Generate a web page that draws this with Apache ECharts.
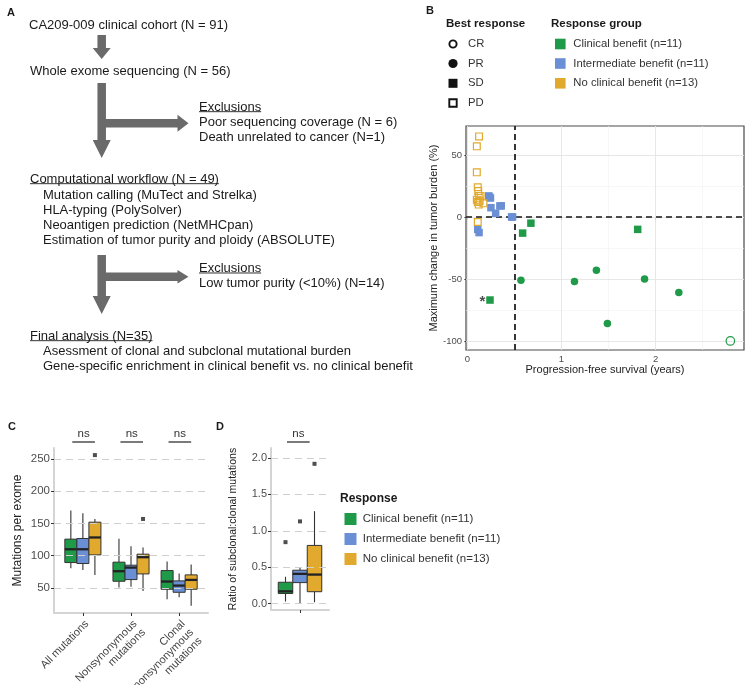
<!DOCTYPE html>
<html><head><meta charset="utf-8">
<script src="https://cdn.jsdelivr.net/npm/echarts@6/dist/echarts.min.js"></script>
<style>html,body{margin:0;padding:0;background:#fff}#c{width:750px;height:685px}</style>
</head><body><div id="c"></div>
<script>
// ================= DATA =================
const groupNames = ['Clinical benefit (n=11)', 'Intermediate benefit (n=11)', 'No clinical benefit (n=13)'];
const responseNames = ['CR', 'PR', 'SD', 'PD'];

// Panel B: progression-free survival (years) vs max change in tumor burden (%)
const clinicalPFS    = [0.675, 0.587, 1.81, 0.24, 0.569, 1.138, 1.371, 1.488, 1.883, 2.247, 2.795];
const clinicalChange = [-5, -13, -10, -67, -51, -52, -43, -86, -50, -61, -100];
const clinicalResp   = ['SD', 'SD', 'SD', 'SD', 'PR', 'PR', 'PR', 'PR', 'PR', 'PR', 'CR'];
const intermPFS      = [0.11, 0.124, 0.227, 0.235, 0.245, 0.25, 0.30, 0.345, 0.36, 0.47, 0.48];
const intermChange   = [-10, -12.6, 17, 16, 15.3, 7.5, 3, 8.9, 9, 0, 0];
const intermResp     = ['SD', 'SD', 'SD', 'SD', 'SD', 'SD', 'SD', 'SD', 'SD', 'SD', 'SD'];
const noBenPFS       = [0.124, 0.10, 0.10, 0.11, 0.115, 0.12, 0.14, 0.10, 0.11, 0.12, 0.17, 0.13, 0.11];
const noBenChange    = [65, 57, 36, 24, 21, 17, 17, 14, 12, 10, 11, 13, -4];
const noBenResp      = ['PD', 'PD', 'PD', 'PD', 'PD', 'PD', 'PD', 'PD', 'PD', 'PD', 'PD', 'PD', 'PD'];
const asteriskPoint  = [0.16, -66];
const bXTicks = [0, 1, 2];
const bXMinor = [0.5, 1.5, 2.5];
const bYTicks = [-100, -50, 0, 50];
const bYMinor = [-75, -25, 25];
const pfsCutoff = 0.5;
const changeCutoff = 0;

// Panel C: mutations per exome, box stats [min, Q1, median, Q3, max]
const mutationCategories = ['All mutations', 'Nonsynonymous\nmutations', 'Clonal\nnonsynonymous\nmutations'];
const mutClinical = [[80.6, 89.4, 110, 125.7, 170.2], [50.6, 60.4, 76, 90, 126.2], [32.4, 48, 60, 77, 91]];
const mutInterm   = [[78, 87.9, 110, 126.7, 166], [52, 63, 81.6, 85.3, 114.8], [35.5, 43.3, 53.7, 61, 72.3]];
const mutNoBen    = [[70.2, 101.3, 128.3, 152, 156.8], [45.4, 71.8, 97.7, 102.4, 112.7], [22.6, 48, 62.5, 70.3, 86.3]];
const mutOutliers = [[0, 2, 256], [1, 2, 157]]; // [category index, group index, value]
const mutTicks = [50, 100, 150, 200, 250];
const mutSignif = ['ns', 'ns', 'ns'];

// Panel D: ratio of subclonal:clonal mutations
const ratioClinical = [0.03, 0.14, 0.17, 0.295, 0.37];
const ratioInterm   = [0.0, 0.29, 0.41, 0.46, 0.49];
const ratioNoBen    = [0.02, 0.165, 0.40, 0.80, 1.27];
const ratioOutliers = [[0, 0.845], [1, 1.13], [2, 1.92]]; // [group index, value]
const ratioTicks = [0, 0.5, 1.0, 1.5, 2.0];
const ratioSignif = ['ns'];

// Panel A flowchart texts
const flowMain = ['CA209-009 clinical cohort (N = 91)', 'Whole exome sequencing (N = 56)'];
const flowExcl1 = ['Exclusions', 'Poor sequencing coverage (N = 6)', 'Death unrelated to cancer (N=1)'];
const flowWorkflow = ['Computational workflow (N = 49)', 'Mutation calling (MuTect and Strelka)', 'HLA-typing (PolySolver)',
  'Neoantigen prediction (NetMHCpan)', 'Estimation of tumor purity and ploidy (ABSOLUTE)'];
const flowExcl2 = ['Exclusions', 'Low tumor purity (<10%) (N=14)'];
const flowFinal = ['Final analysis (N=35)', 'Asessment of clonal and subclonal mutational burden',
  'Gene-specific enrichment in clinical benefit vs. no clinical benefit'];

// ================= STYLE =================
const FONT = "'Liberation Sans', Arial, Helvetica, sans-serif";
const COLORS = ['#1f9a48', '#6a8fd4', '#e1a92d'];
const ARROW = '#6a6a6a';
const FLOW_SIZE = 13;

const chart = echarts.init(document.getElementById('c'), null, {renderer: 'canvas'});
const ctx = document.createElement('canvas').getContext('2d');
function tw(str, font) { ctx.font = font; return ctx.measureText(str).width; }

const graphic = [];
function txt(str, x, y, o) {
  o = o || {};
  const size = o.size || FLOW_SIZE;
  const font = (o.bold ? 'bold ' : '') + size + 'px ' + FONT;
  graphic.push({type: 'text', x: x, y: y, silent: true, style: {
    text: str, font: font, fill: o.color || '#1a1a1a',
    align: o.align || 'left', textAlign: o.align || 'left',
    verticalAlign: 'middle', textVerticalAlign: 'middle'}});
  if (o.underline) {
    const w = tw(str, font);
    const uy = y + size * 0.36;
    graphic.push({type: 'line', silent: true, shape: {x1: x, y1: uy, x2: x + w, y2: uy}, style: {stroke: o.color || '#1a1a1a', lineWidth: 0.9}});
  }
}
function poly(pts) { graphic.push({type: 'polygon', silent: true, shape: {points: pts}, style: {fill: ARROW}}); }
function downArrow(cx, y0, y1, shaftW, headW, headL) {
  poly([[cx - shaftW / 2, y0], [cx + shaftW / 2, y0], [cx + shaftW / 2, y1 - headL], [cx + headW / 2, y1 - headL],
        [cx, y1], [cx - headW / 2, y1 - headL], [cx - shaftW / 2, y1 - headL]]);
}
function rightArrow(cy, x0, x1, shaftW, headW, headL) {
  poly([[x0, cy - shaftW / 2], [x1 - headL, cy - shaftW / 2], [x1 - headL, cy - headW / 2], [x1, cy],
        [x1 - headL, cy + headW / 2], [x1 - headL, cy + shaftW / 2], [x0, cy + shaftW / 2]]);
}

// ---- Panel A ----
txt('A', 7, 13, {bold: true, size: 11});
txt(flowMain[0], 29, 25);
downArrow(101.7, 35, 59, 8.5, 18, 11);
txt(flowMain[1], 30, 71);
downArrow(101.7, 83, 158, 8.5, 18, 18);
rightArrow(123.3, 105, 188.5, 8.5, 17, 11);
txt(flowExcl1[0], 199, 107, {underline: true});
txt(flowExcl1[1], 199, 122.3);
txt(flowExcl1[2], 199, 137.3);
txt(flowWorkflow[0], 30, 179, {underline: true});
[195, 210, 225, 240].forEach((yy, i) => txt(flowWorkflow[i + 1], 43, yy));
downArrow(101.7, 255, 314, 8.5, 18, 18);
rightArrow(276.7, 105, 188.5, 8.5, 13.5, 11);
txt(flowExcl2[0], 199, 268.3, {underline: true});
txt(flowExcl2[1], 199, 283.3);
txt(flowFinal[0], 30, 336, {underline: true});
txt(flowFinal[1], 43, 351.7);
txt(flowFinal[2], 43, 366.7);

// ---- Panel B legends ----
txt('B', 426, 11, {bold: true, size: 11});
txt('Best response', 446, 24, {bold: true, size: 11.5});
txt('Response group', 551, 24, {bold: true, size: 11.5});
const legY = [44, 63.5, 83.3, 103];
graphic.push({type: 'circle', silent: true, shape: {cx: 453, cy: legY[0], r: 3.6}, style: {fill: 'none', stroke: '#111', lineWidth: 1.9}});
graphic.push({type: 'circle', silent: true, shape: {cx: 453, cy: legY[1], r: 4.6}, style: {fill: '#111'}});
graphic.push({type: 'rect', silent: true, shape: {x: 448.5, y: legY[2] - 4.5, width: 9, height: 9}, style: {fill: '#111'}});
graphic.push({type: 'rect', silent: true, shape: {x: 449.3, y: legY[3] - 3.7, width: 7.4, height: 7.4}, style: {fill: 'none', stroke: '#111', lineWidth: 1.9}});
responseNames.forEach((r, i) => txt(r, 468, legY[i], {size: 11.3, color: '#333'}));
groupNames.forEach((n, i) => {
  const yy = legY[i];
  graphic.push({type: 'rect', silent: true, shape: {x: 555, y: yy - 5.3, width: 10.6, height: 10.6}, style: {fill: COLORS[i]}});
  txt(n, 573.3, yy, {size: 11.3, color: '#333'});
});

// ---- Panel C/D labels and legend ----
txt('C', 8, 427, {bold: true, size: 11});
txt('D', 216, 427, {bold: true, size: 11});
txt('Response', 340, 499, {bold: true, size: 12});
groupNames.forEach((n, i) => {
  const yy = 519 + i * 20;
  graphic.push({type: 'rect', silent: true, shape: {x: 344.5, y: yy - 6, width: 12, height: 12}, style: {fill: COLORS[i]}});
  txt(n, 362.7, yy, {size: 11.5, color: '#333'});
});

// ================= SERIES =================
const series = [];

// Panel B gridlines and reference lines
series.push({
  type: 'scatter', xAxisIndex: 0, yAxisIndex: 0, data: [], z: 1, silent: true,
  markLine: {silent: true, symbol: ['none', 'none'], label: {show: false}, animation: false,
    data: [].concat(
      bXMinor.map(v => ({xAxis: v, lineStyle: {color: '#f1f1f1', width: 0.6, type: 'solid'}})),
      bYMinor.map(v => ({yAxis: v, lineStyle: {color: '#f1f1f1', width: 0.6, type: 'solid'}})),
      bXTicks.map(v => ({xAxis: v, lineStyle: {color: '#e4e4e4', width: 0.9, type: 'solid'}})),
      bYTicks.map(v => ({yAxis: v, lineStyle: {color: '#e4e4e4', width: 0.9, type: 'solid'}}))
    )}
});
series.push({
  type: 'scatter', xAxisIndex: 0, yAxisIndex: 0, data: [], z: 2, silent: true,
  markLine: {silent: true, symbol: ['none', 'none'], label: {show: false}, animation: false,
    lineStyle: {color: '#151515', width: 1.7, type: [6, 4]},
    data: [{xAxis: pfsCutoff}, {yAxis: changeCutoff}]}
});

// Panel B points
const groupsB = [
  {pfs: clinicalPFS, change: clinicalChange, resp: clinicalResp},
  {pfs: intermPFS, change: intermChange, resp: intermResp},
  {pfs: noBenPFS, change: noBenChange, resp: noBenResp}
];
const respStyle = {
  CR: {symbol: 'circle', open: true, size: 8.5},
  PR: {symbol: 'circle', open: false, size: 7.5},
  SD: {symbol: 'rect', open: false, size: 7.5},
  PD: {symbol: 'rect', open: true, size: 6.8}
};
groupsB.forEach((g, gi) => {
  responseNames.forEach(r => {
    const pts = g.pfs.map((x, i) => [x, g.change[i], g.resp[i]]).filter(p => p[2] === r).map(p => [p[0], p[1]]);
    if (!pts.length) return;
    const st = respStyle[r];
    series.push({
      type: 'scatter', xAxisIndex: 0, yAxisIndex: 0, symbol: st.symbol, symbolSize: st.size, data: pts, z: 5, silent: true,
      itemStyle: st.open ? {color: 'rgba(0,0,0,0)', borderColor: COLORS[gi], borderWidth: 1.2, opacity: 1}
                         : {color: COLORS[gi], opacity: 1}
    });
  });
});
series.push({
  type: 'scatter', xAxisIndex: 0, yAxisIndex: 0, data: [asteriskPoint], symbolSize: 1, z: 6, silent: true,
  itemStyle: {color: 'rgba(0,0,0,0)'},
  label: {show: true, formatter: '*', position: 'inside', offset: [0, 3], fontSize: 15, fontWeight: 'bold', color: '#222'}
});

// Box plot helper (custom series)
function boxSeries(axisIdx, stats, offset, halfW, color) {
  return {
    type: 'custom', xAxisIndex: axisIdx, yAxisIndex: axisIdx, z: 4, silent: true,
    data: stats.map((s, i) => [i + 1 + offset].concat(s)),
    encode: {x: 0, y: [1, 2, 3, 4, 5]},
    renderItem: (params, api) => {
      const x = api.value(0);
      const pMin = api.coord([x, api.value(1)]);
      const pQ1 = api.coord([x, api.value(2)]);
      const pMed = api.coord([x, api.value(3)]);
      const pQ3 = api.coord([x, api.value(4)]);
      const pMax = api.coord([x, api.value(5)]);
      const l = api.coord([x - halfW, api.value(3)])[0];
      const r = api.coord([x + halfW, api.value(3)])[0];
      return {type: 'group', children: [
        {type: 'line', shape: {x1: pMin[0], y1: pMin[1], x2: pQ1[0], y2: pQ1[1]}, style: {stroke: '#333', lineWidth: 1.1}},
        {type: 'line', shape: {x1: pQ3[0], y1: pQ3[1], x2: pMax[0], y2: pMax[1]}, style: {stroke: '#333', lineWidth: 1.1}},
        {type: 'rect', shape: {x: l, y: pQ3[1], width: r - l, height: pQ1[1] - pQ3[1]}, style: {fill: color, stroke: '#333', lineWidth: 1}},
        {type: 'line', shape: {x1: l, y1: pMed[1], x2: r, y2: pMed[1]}, style: {stroke: '#222', lineWidth: 2.3}}
      ]};
    }
  };
}
function signifSeries(axisIdx, labels, lo, hi) {
  return {
    type: 'custom', xAxisIndex: axisIdx, yAxisIndex: axisIdx, clip: false, silent: true, z: 4,
    data: labels.map((t, i) => [i + 1]),
    renderItem: (params, api) => {
      const c = api.value(0);
      const cs = params.coordSys;
      const x1 = api.coord([c + lo, 1])[0], x2 = api.coord([c + hi, 1])[0];
      const ly = cs.y - 6;
      return {type: 'group', children: [
        {type: 'line', shape: {x1: x1, y1: ly, x2: x2, y2: ly}, style: {stroke: '#222', lineWidth: 1.2}},
        {type: 'text', x: (x1 + x2) / 2, y: ly - 2, style: {text: labels[params.dataIndex], fontSize: 11.5, fontFamily: FONT, fill: '#333',
          align: 'center', verticalAlign: 'bottom', textAlign: 'center', textVerticalAlign: 'bottom'}}
      ]};
    }
  };
}
function dashedGrid(axisIdx, ticks) {
  return {
    type: 'scatter', xAxisIndex: axisIdx, yAxisIndex: axisIdx, data: [], z: 1, silent: true,
    markLine: {silent: true, symbol: ['none', 'none'], label: {show: false}, animation: false,
      lineStyle: {color: '#cfcfcf', width: 1, type: [7, 5]},
      data: ticks.map(v => ({yAxis: v}))}
  };
}

// Panel C
const cOffsets = [-0.25, 0, 0.25];
series.push(dashedGrid(1, mutTicks));
[mutClinical, mutInterm, mutNoBen].forEach((s, i) => series.push(boxSeries(1, s, cOffsets[i], 0.125, COLORS[i])));
series.push({type: 'scatter', xAxisIndex: 1, yAxisIndex: 1, symbol: 'rect', symbolSize: 4, z: 5, silent: true,
  itemStyle: {color: '#222'}, data: mutOutliers.map(o => [o[0] + 1 + cOffsets[o[1]], o[2]])});
series.push(signifSeries(1, mutSignif, -0.22, 0.25));

// Panel D
const dOffsets = [-0.3, 0, 0.3];
series.push(dashedGrid(2, ratioTicks));
[ratioClinical, ratioInterm, ratioNoBen].forEach((s, i) => series.push(boxSeries(2, [s], dOffsets[i], 0.15, COLORS[i])));
series.push({type: 'scatter', xAxisIndex: 2, yAxisIndex: 2, symbol: 'rect', symbolSize: 4, z: 5, silent: true,
  itemStyle: {color: '#222'}, data: ratioOutliers.map(o => [1 + dOffsets[o[0]], o[1]])});
series.push(signifSeries(2, ratioSignif, -0.27, 0.2));

// ================= AXES =================
const tickStyle = {lineStyle: {color: '#333', width: 1}, length: 3};
const option = {
  animation: false,
  textStyle: {fontFamily: FONT},
  grid: [
    {left: 466, top: 126, width: 278, height: 224, show: true, borderColor: '#4a4a4a', borderWidth: 1.2, backgroundColor: '#fff', outerBoundsMode: 'none'},
    {left: 54, top: 448, width: 154, height: 165, outerBoundsMode: 'none'},
    {left: 271, top: 448, width: 58, height: 162, outerBoundsMode: 'none'}
  ],
  xAxis: [
    {gridIndex: 0, type: 'value', min: -0.015, max: 2.94,
      axisLine: {show: false}, splitLine: {show: false},
      axisTick: Object.assign({show: true, customValues: bXTicks}, tickStyle),
      axisLabel: {customValues: bXTicks, fontSize: 9.5, color: '#4d4d4d', margin: 4},
      name: 'Progression-free survival (years)', nameLocation: 'middle', nameGap: 13,
      nameTextStyle: {fontSize: 11, color: '#222'}},
    {gridIndex: 1, type: 'value', min: 0.4, max: 3.6,
      axisLine: {show: true, onZero: false, lineStyle: {color: '#d4d4d4', width: 2}}, splitLine: {show: false},
      axisTick: Object.assign({show: true, customValues: [1, 2, 3]}, tickStyle),
      axisLabel: {customValues: [1, 2, 3], formatter: v => mutationCategories[Math.round(v) - 1],
        rotate: 45, fontSize: 11, color: '#444', align: 'right', verticalAlign: 'top', margin: 5, lineHeight: 12}},
    {gridIndex: 2, type: 'value', min: 0.4, max: 1.6,
      axisLine: {show: true, onZero: false, lineStyle: {color: '#d4d4d4', width: 2}}, splitLine: {show: false},
      axisTick: Object.assign({show: true, customValues: [1]}, tickStyle),
      axisLabel: {show: false}}
  ],
  yAxis: [
    {gridIndex: 0, type: 'value', min: -107.3, max: 73.4,
      axisLine: {show: false}, splitLine: {show: false},
      axisTick: Object.assign({show: true, customValues: bYTicks}, tickStyle),
      axisLabel: {customValues: bYTicks, fontSize: 9.5, color: '#4d4d4d', margin: 4},
      name: 'Maximum change in tumor burden (%)', nameLocation: 'middle', nameGap: 27,
      nameTextStyle: {fontSize: 11, color: '#222'}},
    {gridIndex: 1, type: 'value', min: 11.2, max: 267,
      axisLine: {show: true, onZero: false, lineStyle: {color: '#d4d4d4', width: 2}}, splitLine: {show: false},
      axisTick: Object.assign({show: true, customValues: mutTicks}, tickStyle),
      axisLabel: {customValues: mutTicks, fontSize: 11.5, color: '#4d4d4d', margin: 4},
      name: 'Mutations per exome', nameLocation: 'middle', nameGap: 30,
      nameTextStyle: {fontSize: 12, color: '#222'}},
    {gridIndex: 2, type: 'value', min: -0.086, max: 2.137,
      axisLine: {show: true, onZero: false, lineStyle: {color: '#d4d4d4', width: 2}}, splitLine: {show: false},
      axisTick: Object.assign({show: true, customValues: ratioTicks}, tickStyle),
      axisLabel: {customValues: ratioTicks, formatter: v => v.toFixed(1), fontSize: 11, color: '#4d4d4d', margin: 4},
      name: 'Ratio of subclonal:clonal mutations', nameLocation: 'middle', nameGap: 32,
      nameTextStyle: {fontSize: 10.5, color: '#222'}}
  ],
  series: series,
  graphic: graphic
};
chart.setOption(option);
</script>
</body></html>
